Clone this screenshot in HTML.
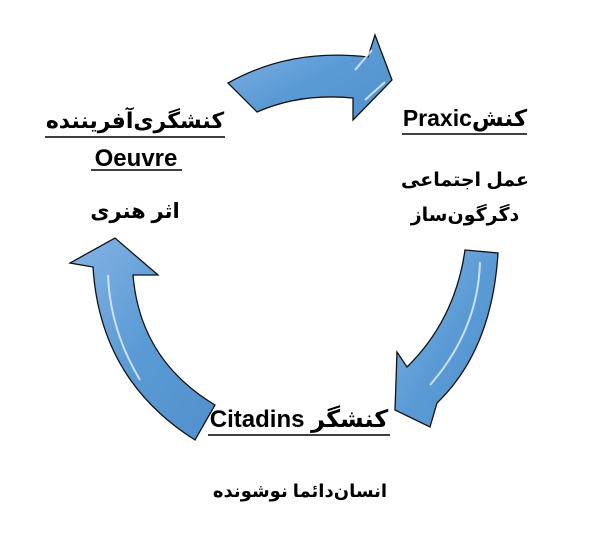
<!DOCTYPE html>
<html><head><meta charset="utf-8"><style>
html,body{margin:0;padding:0;background:#fff;}
svg{display:block;}
text{font-family:"Liberation Sans","Noto Sans CJK SC","DejaVu Sans",sans-serif;font-weight:bold;fill:#000;}
</style></head><body>
<svg width="603" height="545" viewBox="0 0 603 545" xmlns="http://www.w3.org/2000/svg">
<defs>
<linearGradient id="g" x1="0" y1="0" x2="1" y2="1">
<stop offset="0" stop-color="#86b4e4"/><stop offset="0.5" stop-color="#5b9bd5"/><stop offset="1" stop-color="#5190cc"/>
</linearGradient>
</defs>
<g fill="url(#g)" stroke="#111" stroke-width="1.3" stroke-linejoin="miter">
<path d="M228,83 Q290,48 368,57 L375,35 L392,80 L353,120 L353,98 Q300,93 257,112 Z"/>
<path d="M465,250 L498,253 Q492,350 437,403 L430,427 L395,410 L397,352 L407,367 Q455,320 465,250 Z"/>
<path d="M195,440 Q100,380 93,267 L70,263 L115,238 L158,275 L133,275 Q140,360 215,405 Z"/>
</g>
<g fill="none" stroke="#e8f3ff" stroke-width="2" opacity="0.8">
<path d="M355,70 L372,50"/><path d="M365,100 L385,82"/>
<path d="M480,262 Q478,330 430,385"/>
<path d="M108,275 Q110,330 140,380"/>
</g>
<text x="135" y="128" font-size="22" text-anchor="middle" direction="rtl">کنشگری‌آفریننده</text>
<line x1="45" y1="137" x2="225" y2="137" stroke="#000" stroke-width="1.5"/>
<text x="136" y="166" font-size="24" text-anchor="middle">Oeuvre</text>
<line x1="91" y1="170" x2="182" y2="170" stroke="#000" stroke-width="1.5"/>
<text x="135" y="218" font-size="21" text-anchor="middle" direction="rtl">اثر هنری</text>
<text x="465" y="126" font-size="23" text-anchor="middle" direction="rtl">کنش‌Praxic</text>
<line x1="402" y1="134" x2="527" y2="134" stroke="#000" stroke-width="1.5"/>
<text x="465" y="186" font-size="19" text-anchor="middle" direction="rtl">عمل اجتماعی</text>
<text x="465" y="221" font-size="19" text-anchor="middle" direction="rtl">دگرگون‌ساز</text>
<text x="299" y="427" font-size="24" text-anchor="middle" direction="rtl">کنشگر Citadins</text>
<line x1="208" y1="435" x2="390" y2="435" stroke="#000" stroke-width="1.5"/>
<text x="300" y="497" font-size="18" text-anchor="middle" direction="rtl">انسان‌دائما نوشونده</text>
</svg>
</body></html>
